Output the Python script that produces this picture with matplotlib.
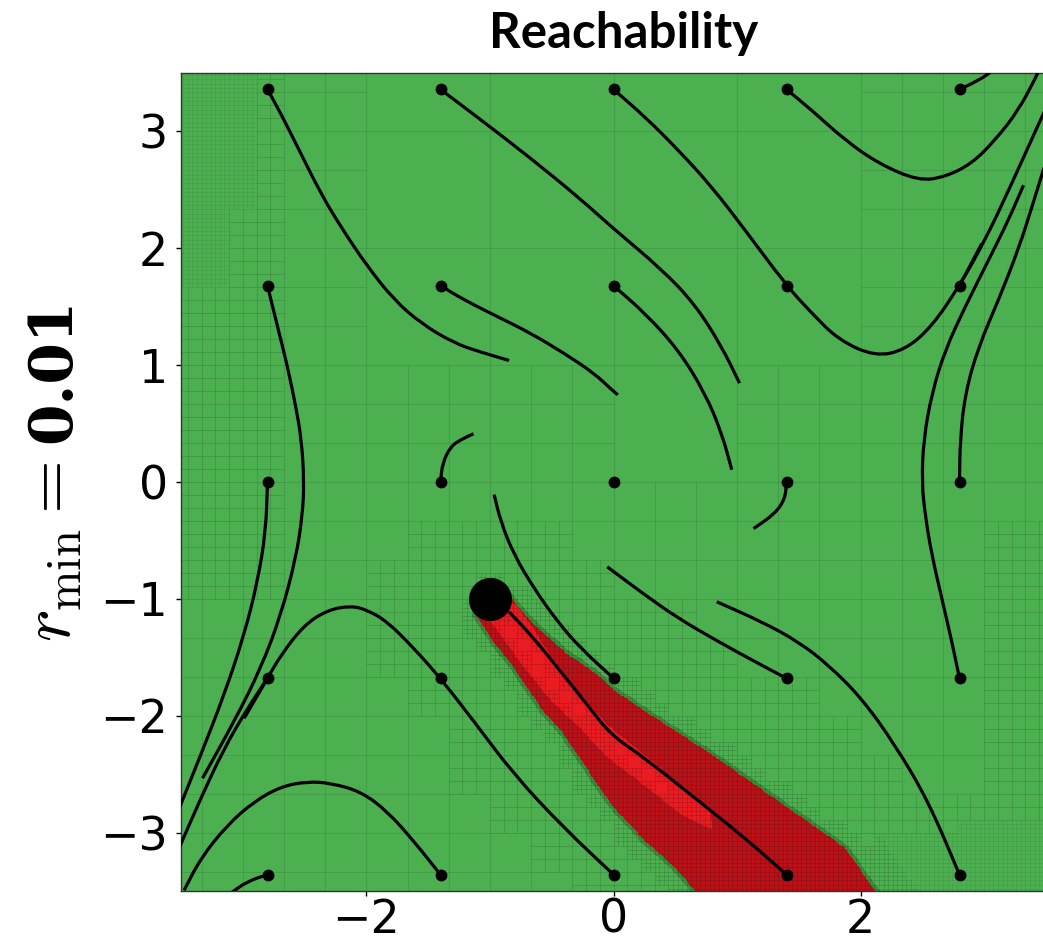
import numpy as np
import matplotlib
matplotlib.use("Agg")
import matplotlib.pyplot as plt
from matplotlib.path import Path
from matplotlib.patches import PathPatch
from matplotlib.collections import LineCollection

# ---------------------------------------------------------------- data
# initial states of the simulated trajectories (5 x 5 grid)
start_x = [-2.8, -1.4, 0.0, 1.4, 2.8]
start_y = [-3.36, -1.68, 0.0, 1.68, 3.36]

# obstacle / target set
obstacle_x = -1.0
obstacle_y = -1.0

# closed-loop trajectories (x, y)
traj_a = [(-2.8, 3.36), (-2.692, 3.152), (-2.557, 2.868), (-2.369, 2.469), (-2.207, 2.184),
          (-1.991, 1.843), (-1.775, 1.558), (-1.559, 1.358), (-1.290, 1.188), (-1.07, 1.11),
          (-0.845, 1.040)]
traj_b = [(-1.4, 3.36), (-1.074, 3.10), (-0.669, 2.77), (-0.265, 2.42), (-0.014, 2.18),
          (0.391, 1.82), (0.660, 1.52), (0.876, 1.159), (1.020, 0.846)]
traj_c = [(0.0, 3.36), (0.256, 3.124), (0.526, 2.839), (0.796, 2.526), (1.065, 2.156),
          (1.4, 1.68), (1.605, 1.444), (1.821, 1.216), (2.117, 1.074), (2.360, 1.130),
          (2.576, 1.330), (2.8, 1.68), (3.008, 2.070), (3.223, 2.554), (3.466, 3.124),
          (3.51, 3.22)]
traj_d = [(1.4, 3.36), (1.605, 3.181), (1.874, 2.925), (2.144, 2.725), (2.468, 2.577),
          (2.684, 2.611), (2.900, 2.725), (3.088, 2.925), (3.278, 3.181), (3.426, 3.480),
          (3.44, 3.52)]
traj_e = [(2.8, 3.36), (2.900, 3.409), (3.021, 3.480), (3.06, 3.52)]
traj_f = [(-2.8, 1.68), (-2.719, 1.330), (-2.638, 0.988), (-2.571, 0.646), (-2.525, 0.362),
          (-2.504, 0.006), (-2.517, -0.285), (-2.571, -0.655), (-2.692, -1.139),
          (-2.854, -1.595), (-3.070, -2.050), (-3.326, -2.535)]
traj_g = [(-1.4, 1.68), (-1.209, 1.558), (-0.939, 1.415), (-0.669, 1.273), (-0.400, 1.102),
          (-0.157, 0.931), (-0.014, 0.789), (0.035, 0.746)]
traj_h = [(0.0, 1.68), (0.256, 1.444), (0.526, 1.130), (0.741, 0.760), (0.876, 0.419),
          (0.957, 0.105)]
traj_i = [(2.8, 1.68), (2.98, 2.04)]
traj_j = [(-2.8, 0.0), (-2.814, -0.427), (-2.881, -0.854), (-2.989, -1.310), (-3.151, -1.822),
          (-3.340, -2.335), (-3.51, -2.78)]
traj_k = [(-1.4, 0.0), (-1.384, 0.162), (-1.317, 0.305), (-1.236, 0.362), (-1.133, 0.413)]
traj_l = [(1.4, 0.0), (1.389, -0.142), (1.308, -0.270), (1.133, -0.399)]
traj_m = [(2.8, 0.0), (2.805, 0.362), (2.846, 0.760), (2.954, 1.159), (3.116, 1.558),
          (3.28, 2.0), (3.40, 2.4), (3.51, 2.78)]
traj_n = [(-2.8, -1.68), (-2.989, -2.022)]
traj_o = [(0.0, -3.36), (-0.400, -2.962), (-0.804, -2.506), (-1.128, -2.050), (-1.4, -1.68),
          (-1.614, -1.424), (-1.829, -1.196), (-1.991, -1.096), (-2.126, -1.059),
          (-2.315, -1.096), (-2.504, -1.224), (-2.692, -1.481), (-2.8, -1.68),
          (-2.962, -1.937), (-3.151, -2.279), (-3.340, -2.706), (-3.51, -3.12)]
traj_p = [(0.0, -1.68), (-0.265, -1.424), (-0.453, -1.196), (-0.643, -0.911), (-0.804, -0.626),
          (-0.912, -0.342), (-0.966, -0.108)]
traj_q = [(1.4, -1.68), (1.146, -1.538), (0.850, -1.367), (0.526, -1.168), (0.256, -0.968),
          (-0.014, -0.755), (-0.05, -0.726)]
traj_r = [(2.8, -1.68), (2.738, -1.367), (2.657, -0.997), (2.576, -0.626), (2.522, -0.285),
          (2.495, 0.0), (2.509, 0.362), (2.576, 0.760), (2.684, 1.130), (2.846, 1.501),
          (3.035, 1.899), (3.196, 2.241), (3.318, 2.540)]
traj_s = [(-2.8, -3.36), (-2.962, -3.417), (-3.10, -3.52)]
traj_t = [(-1.4, -3.36), (-1.614, -3.076), (-1.829, -2.819), (-2.045, -2.648), (-2.288, -2.577),
          (-2.476, -2.563), (-2.692, -2.606), (-2.908, -2.734), (-3.124, -2.933),
          (-3.340, -3.218), (-3.475, -3.494)]
traj_u = [(1.4, -3.36), (1.065, -3.047), (0.660, -2.706), (0.256, -2.364), (-0.022, -2.164),
          (-0.211, -1.908), (-0.427, -1.623), (-0.643, -1.338), (-0.845, -1.111)]
traj_v = [(2.8, -3.36), (2.549, -2.734), (2.279, -2.250), (2.009, -1.851), (1.740, -1.566),
          (1.497, -1.367), (1.200, -1.196), (0.836, -1.025)]

trajectories = [traj_a, traj_b, traj_c, traj_d, traj_e, traj_f, traj_g, traj_h, traj_i,
                traj_j, traj_k, traj_l, traj_m, traj_n, traj_o, traj_p, traj_q, traj_r,
                traj_s, traj_t, traj_u, traj_v]

# boundary of the reachable (unsafe) set
red_upper = [(-0.845, -0.977), (-0.669, -1.196), (-0.400, -1.452), (-0.129, -1.652),
             (0.0, -1.78), (0.256, -1.965), (0.796, -2.335), (1.335, -2.734),
             (1.874, -3.133), (2.117, -3.5), (2.2, -3.62)]
red_lower = [(-1.114, -1.139), (-0.993, -1.338), (-0.804, -1.595), (-0.588, -1.937),
             (-0.400, -2.164), (-0.184, -2.506), (-0.02, -2.76), (0.256, -3.076),
             (0.472, -3.275), (0.660, -3.5), (0.62, -3.62)]
# interior part resolved with coarser cells
core_upper = [(-0.92, -0.98), (-0.78, -1.06), (-0.66, -1.24), (-0.50, -1.50), (-0.30, -1.78),
              (-0.05, -2.08), (0.30, -2.38), (0.78, -2.80)]
core_lower = [(-1.0, -1.18), (-0.87, -1.38), (-0.70, -1.62), (-0.50, -1.88), (-0.28, -2.10),
              (-0.05, -2.36), (0.25, -2.60), (0.55, -2.85), (0.80, -2.98)]

# quadtree refinement zones: (x0, x1, y0, y1, level)
coarse_zones = [(-2.0, 2.0, 1.0, 4.0), (0.0, 1.0, 0.0, 1.0)]
refine_zones = [(-3.5, -2.67, 1.0, 3.5, 2), (-3.5, -3.2, 1.7, 3.5, 3), (-3.2, -2.9, 2.4, 3.5, 3),
                (-3.5, -2.67, -1.0, 1.0, 2), (2.8, 3.5, -3.5, -2.9, 3), (2.15, 2.8, -3.5, -3.0, 3),
                (3.0, 3.5, -2.5, -0.5, 2)]

# ---------------------------------------------------------------- helpers
GREEN = np.array([76, 175, 80]) / 255.0
GREEN_EDGE = np.array([60, 140, 62]) / 255.0
RED_DARK = np.array([184, 18, 24]) / 255.0
RED_BRIGHT = np.array([232, 28, 33]) / 255.0

red_poly = np.array(red_upper + red_lower[::-1] + [(-1.0, -0.95)])
core_poly = np.array(core_upper + core_lower[::-1])
red_path = Path(red_poly)
core_path = Path(core_poly)


def boundary_distance(x, y):
    d = np.full(np.shape(x), np.inf)
    pts = np.vstack([red_poly, red_poly[:1]])
    for (x0, y0), (x1, y1) in zip(pts[:-1], pts[1:]):
        dx, dy = x1 - x0, y1 - y0
        t = np.clip(((x - x0) * dx + (y - y0) * dy) / (dx * dx + dy * dy), 0, 1)
        d = np.minimum(d, np.hypot(x - (x0 + t * dx), y - (y0 + t * dy)))
    return d


def needed_level(x, y):
    inside = red_path.contains_points(np.column_stack([x, y]))
    core = core_path.contains_points(np.column_stack([x, y]))
    d = boundary_distance(x, y)
    lvl = np.ones(x.shape, dtype=int)
    for x0, x1, y0, y1 in coarse_zones:
        lvl[(x >= x0) & (x <= x1) & (y >= y0) & (y <= y1)] = 0
    lvl[d < 0.6] = np.maximum(lvl[d < 0.6], 2)
    lvl[(d < 0.07) | inside] = 3
    lvl[core & (d > 0.05)] = 2
    for x0, x1, y0, y1, L in refine_zones:
        m = (x >= x0) & (x <= x1) & (y >= y0) & (y <= y1)
        lvl[m] = np.maximum(lvl[m], L)
    return lvl


def smooth_path(points):
    """Quadratic B-spline style path through the midpoints of the polyline."""
    p = np.asarray(points, dtype=float)
    if len(p) < 3:
        return Path(p)
    verts = [p[0], (p[0] + p[1]) / 2]
    codes = [Path.MOVETO, Path.LINETO]
    for k in range(1, len(p) - 1):
        verts += [p[k], (p[k] + p[k + 1]) / 2]
        codes += [Path.CURVE3, Path.CURVE3]
    verts.append(p[-1])
    codes.append(Path.LINETO)
    return Path(verts, codes)


# ---------------------------------------------------------------- quadtree (3 x 3 splits)
frontier = np.array([(i, j) for i in range(-4, 4) for j in range(-4, 4)], dtype=float)
cells = []
for lev in range(4):
    s = 3.0 ** -lev
    if lev == 3 or len(frontier) == 0:
        cells += [(cx, cy, s, lev) for cx, cy in frontier]
        break
    offs = np.linspace(0.02, 0.98, 5) * s
    sx = frontier[:, 0, None, None] + offs[None, :, None]
    sy = frontier[:, 1, None, None] + offs[None, None, :]
    sx, sy = np.broadcast_arrays(sx, sy)
    need = needed_level(sx.ravel(), sy.ravel()).reshape(len(frontier), -1).max(axis=1)
    split = need > lev
    cells += [(cx, cy, s, lev) for (cx, cy), sp in zip(frontier, split) if not sp]
    kids = []
    for cx, cy in frontier[split]:
        for i in range(3):
            for j in range(3):
                kids.append((cx + i * s / 3, cy + j * s / 3))
    frontier = np.array(kids)

# ---------------------------------------------------------------- raster of the sets
n = 900
g = np.linspace(-3.5, 3.5, n)
GX, GY = np.meshgrid(g, g)
P = np.column_stack([GX.ravel(), GY.ravel()])
inside = red_path.contains_points(P).reshape(n, n)
core = core_path.contains_points(P).reshape(n, n) & inside
dist = boundary_distance(GX, GY)
img = np.tile(GREEN, (n, n, 1))
fringe = (~inside) & (dist < 0.03)
img[fringe] = GREEN_EDGE
img[inside] = RED_DARK
img[core] = RED_BRIGHT

# ---------------------------------------------------------------- figure
plt.rcParams["mathtext.fontset"] = "cm"
fig = plt.figure(figsize=(10.43, 9.43), dpi=100)
ax = fig.add_axes([181 / 1043, 1 - 891 / 943, (1046 - 181) / 1043, 818 / 943])
ax.imshow(img, extent=(-3.5, 3.5, -3.5, 3.5), origin="lower", interpolation="nearest",
          aspect="auto", zorder=0)

# cell edges: left and bottom edge of every leaf cell
dark_segs = {0: [], 1: [], 2: [], 3: []}
light_segs = []
for cx, cy, s, lev in cells:
    segs = [[(cx, cy), (cx, cy + s)], [(cx, cy), (cx + s, cy)]]
    mx, my = np.array([cx + s / 2]), np.array([cy + s / 2])
    far = boundary_distance(mx, my)[0] > 0.3
    outside = not red_path.contains_point((mx[0], my[0]))
    if lev == 3 and far and outside:
        light_segs += segs
    else:
        dark_segs[lev] += segs
alphas = {0: 0.10, 1: 0.10, 2: 0.12, 3: 0.14}
for L, segs in dark_segs.items():
    if segs:
        ax.add_collection(LineCollection(segs, colors=[(0, 0, 0, alphas[L])],
                                         linewidths=0.7 if L < 3 else 0.6, zorder=1))
if light_segs:
    ax.add_collection(LineCollection(light_segs, colors=[(0.2, 0.45, 0.2, 0.22)],
                                     linewidths=0.5, zorder=1))

for tr in trajectories:
    ax.add_patch(PathPatch(smooth_path(tr), facecolor="none", edgecolor="black", lw=2.3,
                           capstyle="butt", zorder=3))

SX, SY = np.meshgrid(start_x, start_y)
ax.plot(SX.ravel(), SY.ravel(), "o", color="black", ms=7.5, zorder=4)
ax.plot([obstacle_x], [obstacle_y], "o", color="black", ms=30, zorder=5)

ax.set_xlim(-3.5, 3.5)
ax.set_ylim(-3.5, 3.5)
ax.set_xticks([-2, 0, 2])
ax.set_yticks([-3, -2, -1, 0, 1, 2, 3])
ax.tick_params(labelsize=33, length=3.5, width=1)
ax.tick_params(axis="x", pad=1.5)
ax.tick_params(axis="y", pad=6)
for sp in ax.spines.values():
    sp.set_linewidth(1.0)
    sp.set_color("#333333")

fig.text(624 / 1043, 1 - 34 / 943, "Reachability", ha="center", va="center",
         fontsize=35.5, fontweight="bold", family="Lato")

# vertical row label: plain symbol followed by the bold value
base_x = 70 / 1043
t1 = fig.text(base_x, 1 - 642 / 943, r"$r_{\min} =$", rotation=90, rotation_mode="anchor",
              ha="left", va="baseline", fontsize=50)
fig.canvas.draw()
bb = t1.get_window_extent(fig.canvas.get_renderer())
gap = 18
fig.text(base_x, (bb.y1 + gap) / fig.bbox.height, "0.01", rotation=90,
         rotation_mode="anchor", ha="left", va="baseline", fontsize=43,
         family="DejaVu Serif", fontweight="bold")

fig.savefig("out.png", dpi=100)
